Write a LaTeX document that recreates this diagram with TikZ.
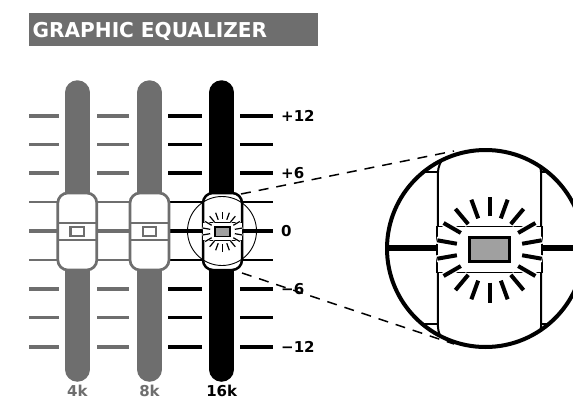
\documentclass[tikz,border=0pt]{standalone}
\usepackage{fontspec}
\setmainfont{DejaVu Sans}
\usepackage{graphicx}
\definecolor{eqgray}{HTML}{6E6E6E}
\definecolor{ledgray}{HTML}{A0A0A0}
\newcommand\eqknob[6]{%
  \draw[line width=#2, fill=white, rounded corners=#1] (-19.5,-38.5) rectangle (19.5,38.5);
  \draw[line width=#3, fill=white] (-19.8,-8.7) rectangle (19.8,8.7);
  \foreach \a in {10,30,...,350}{\draw[white,line width=#6] (\a:12.3) -- (\a:20.3);}
  \foreach \a in {10,30,...,350}{\draw[black,line width=#5] (\a:12.5) -- (\a:20);}
  \draw[line width=#4, fill=ledgray] (-7.5,-4.6) rectangle (7.5,4.6);
}
\newcommand\grayknob[1]{%
  \begin{scope}[shift={(#1,231.5)}]
    \draw[eqgray, line width=2.7pt, fill=white, rounded corners=10pt] (-19.5,-38.5) rectangle (19.5,38.5);
    \draw[eqgray, line width=2.5pt] (-19.5,-8.5) -- (19.5,-8.5) (-19.5,8.5) -- (19.5,8.5);
    \draw[eqgray, line width=2.5pt, fill=white] (-6.7,-4.3) rectangle (6.7,4.3);
  \end{scope}}
\tikzset{
  lab/.style={inner sep=0pt, font=\bfseries\fontsize{15}{15}\selectfont},
  track/.style={line width=24.5pt, line cap=round},
  zoomline/.style={line width=1.5pt, dash pattern=on 10pt off 8pt}
}
\begin{document}
\begin{tikzpicture}[x=1pt,y=-1pt]
\useasboundingbox (0,0) rectangle (573,399);
% title
\node[fill=eqgray, minimum width=289pt, minimum height=33pt, anchor=north west, inner sep=0pt] (title) at (29,13) {};
\node[anchor=base west, text=white, inner sep=0pt, font=\bfseries\fontsize{20.5}{20.5}\selectfont] (titletext) at (32.5,37) {\scalebox{0.98}[1]{GRAPHIC EQUALIZER}};
% ticks
\foreach \k/\w in {-4/4,-3/2.7,-2/4,-1/1.7,0/4,1/1.7,2/4,3/2.7,4/4}{
  \pgfmathsetmacro\yy{231+28.875*\k}
  \draw[eqgray, line width=\w pt] (29,\yy) -- (59,\yy) (97,\yy) -- (129,\yy);
  \draw[black, line width=\w pt] (168,\yy) -- (202,\yy) (240,\yy) -- (273,\yy);
}
% tracks
\draw[track, eqgray] (77.3,92.5) -- (77.3,369.5);
\draw[track, eqgray] (149.5,92.5) -- (149.5,369.5);
\draw[track, black] (221.7,92.5) -- (221.7,369.5);
% knobs
\grayknob{77.3}
\grayknob{149.5}
\begin{scope}[shift={(222.5,231.5)}]
  \eqknob{10pt}{2.5pt}{0.9pt}{1.2pt}{1.2pt}{2.4pt}
\end{scope}
\draw[line width=0.9pt] (222,231) circle (34.5);
% dashed zoom lines
\coordinate (u1) at (241,194);
\coordinate (u2) at (454,151);
\coordinate (l1) at (242,273);
\coordinate (l2) at (454,344);
\draw[zoomline] (u1) -- (u2);
\draw[zoomline] (l1) -- (l2);
% scale labels
\node[lab, anchor=west] (p12) at (281,115.5) {+12};
\node[lab, anchor=west] (p6) at (281,173.2) {+6};
\node[lab, anchor=west] (z0) at (281,231) {0};
\node[lab, anchor=west] (m6) at (281,288.8) {−6};
\node[lab, anchor=west] (m12) at (281,346.5) {−12};
\node[lab, anchor=base, text=eqgray] (f4) at (77.3,396) {4k};
\node[lab, anchor=base, text=eqgray] (f8) at (149.5,396) {8k};
\node[lab, anchor=base] (f16) at (221.7,396) {16k};
% magnified view
\begin{scope}
  \clip (485.5,248.5) circle (98.5);
  \fill[white] (485.5,248.5) circle (98.5);
  \begin{scope}[shift={(489.5,249.5)}, scale=2.65]
    \draw[line width=6pt] (-60,-0.5) -- (60,-0.5);
    \draw[line width=2pt] (-60,-29.3) -- (60,-29.3) (-60,28.3) -- (60,28.3);
    \eqknob{26.5pt}{2pt}{1.5pt}{3pt}{4pt}{7pt}
  \end{scope}
\end{scope}
\draw[line width=4pt] (485.5,248.5) circle (98.5);
\end{tikzpicture}
\end{document}
